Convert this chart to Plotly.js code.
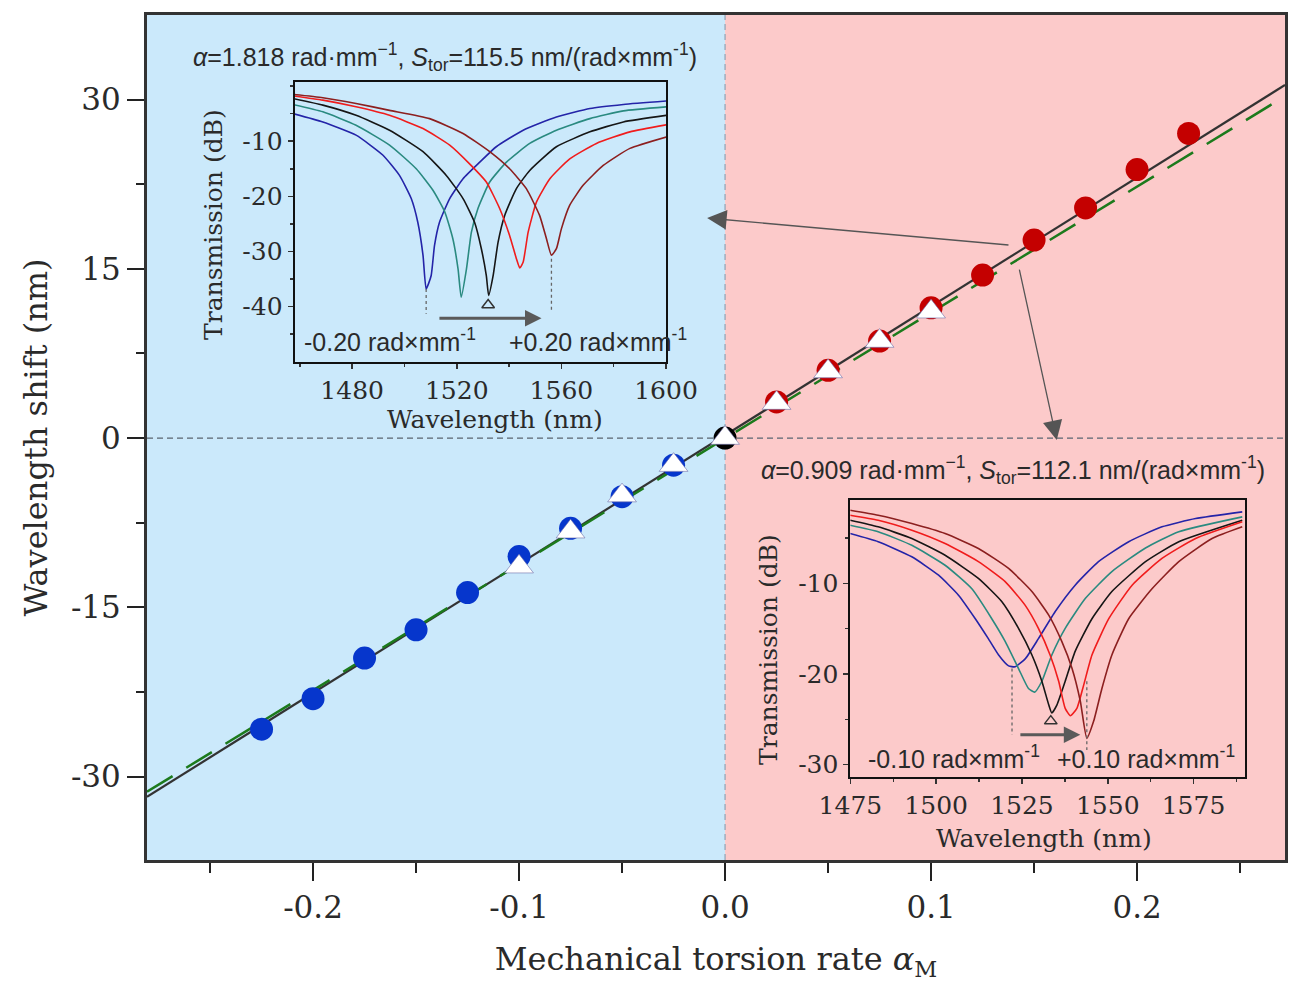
<!DOCTYPE html>
<html>
<head>
<meta charset="utf-8">
<script src="https://cdn.plot.ly/plotly-3.0.1.min.js"></script>
<style>
  body { margin: 0; background: #fff; }
  #chart { width: 1300px; height: 990px; }
</style>
</head>
<body>
<div id="chart"></div>
<script>
// main data, torsion rate (rad/mm) vs wavelength shift (nm)
var negTorsion = [-0.225, -0.2, -0.175, -0.15, -0.125, -0.1, -0.075, -0.05, -0.025]
var negShift   = [-25.8, -23.1, -19.5, -17.0, -13.7, -10.5, -8.0, -5.2, -2.4]
var zeroTorsion = [0]
var zeroShift   = [0]
var posTorsion = [0.025, 0.05, 0.075, 0.1, 0.125, 0.15, 0.175, 0.2, 0.225]
var posShift   = [3.2, 6.0, 8.6, 11.55, 14.45, 17.55, 20.4, 23.8, 27.0]
var triTorsion = [-0.1, -0.075, -0.05, -0.025, 0, 0.025, 0.05, 0.075, 0.1]
var triShift   = [-11.4, -8.3, -5.1, -2.4, 0, 3.1, 5.9, 8.6, 11.2]

// linear fits, read at the plot edges
var fitX     = [-0.2806, 0.2718]
var fitBlack = [-31.8, 31.3]
var fitGreen = [-31.35, 30.3]

// inset 1 (alpha = 1.818) spectra
var s1BlueX = [1457.3,1468.8,1481.5,1491.7,1498.1,1502.6,1505.1,1507.1,1508.3,1510.2,1511.5,1513.4,1517.3,1522.4,1528.8,1535.1,1545.4,1558.1,1570.9,1583.7,1600.3]
var s1BlueY = [-4.97,-6.5,-8.9,-12.5,-16.2,-20.4,-24.7,-30.7,-36.8,-34.4,-28.9,-24.7,-20.4,-16.8,-13.8,-11.0,-8.0,-5.6,-4.06,-3.33,-2.7]
var s1TealX = [1457.3,1468.8,1481.5,1494.3,1504.5,1510.9,1515.4,1518.5,1520.5,1521.7,1523.7,1525.6,1528.1,1532.6,1539.0,1547.9,1558.1,1570.9,1583.7,1600.3]
var s1TealY = [-3.33,-4.67,-7.1,-10.7,-15.0,-18.9,-22.8,-27.7,-33.2,-38.3,-33.2,-26.5,-22.2,-17.4,-13.8,-10.4,-8.0,-5.9,-4.5,-3.76]
var s1BlackX = [1457.3,1468.8,1481.5,1494.3,1507.1,1516.0,1522.4,1526.8,1529.4,1531.3,1532.2,1533.9,1535.8,1538.3,1542.8,1547.9,1558.1,1570.9,1583.7,1600.3]
var s1BlackY = [-2.24,-3.45,-5.3,-8.0,-11.9,-16.2,-20.4,-24.7,-29.5,-34.4,-38.0,-34.4,-28.3,-23.5,-18.6,-15.3,-11.0,-8.3,-6.5,-5.3]
var s1RedX = [1457.3,1468.8,1481.5,1494.3,1507.1,1517.3,1524.9,1531.3,1536.4,1540.2,1542.8,1544.1,1545.4,1547.3,1550.5,1555.6,1563.2,1573.4,1586.2,1600.3]
var s1RedY = [-1.76,-2.55,-3.76,-5.3,-7.7,-10.7,-14.1,-17.4,-22.2,-27.1,-31.3,-33.0,-31.9,-26.5,-21.0,-16.8,-13.2,-10.4,-8.3,-7.0]
var s1DarkX = [1457.3,1468.8,1481.5,1494.3,1509.6,1522.4,1532.6,1540.2,1546.6,1551.7,1554.3,1556.2,1558.1,1560.0,1563.2,1568.3,1576.0,1586.2,1600.3]
var s1DarkY = [-1.5,-2.1,-3.15,-4.4,-5.9,-8.6,-11.9,-15.0,-18.6,-23.5,-27.7,-30.7,-29.5,-25.9,-21.6,-18.0,-14.4,-11.3,-9.2]

// inset 2 (alpha = 0.909) spectra
var s2BlueX = [1474.9,1483.1,1492.9,1500.7,1506.5,1511.4,1515.2,1518.2,1521.1,1523.0,1526.0,1529.8,1534.7,1540.5,1547.3,1556.1,1565.8,1575.6,1589.2]
var s2BlueY = [-4.5,-5.4,-7.07,-9.1,-11.3,-13.9,-16.1,-17.9,-19.1,-19.2,-18.3,-16.1,-13.1,-10.2,-7.6,-5.4,-3.76,-2.85,-2.11]
var s2TealX = [1474.9,1483.1,1492.9,1502.6,1510.4,1516.2,1520.1,1524.0,1526.9,1528.7,1530.8,1533.7,1537.6,1543.5,1551.2,1561.0,1570.7,1589.2]
var s2TealY = [-3.58,-4.3,-5.8,-8.0,-10.6,-13.9,-16.4,-19.4,-21.6,-22.0,-20.8,-17.9,-14.96,-11.65,-8.7,-6.1,-4.3,-2.66]
var s2BlackX = [1474.9,1483.1,1492.9,1502.6,1512.3,1519.1,1524.0,1527.9,1530.8,1532.8,1533.7,1535.2,1537.6,1540.5,1545.4,1551.2,1561.0,1570.7,1589.2]
var s2BlackY = [-3.03,-3.76,-5.05,-6.9,-9.45,-12.0,-14.96,-17.9,-20.8,-23.4,-24.3,-23.4,-20.8,-17.5,-13.9,-10.9,-7.6,-5.4,-3.03]
var s2RedX = [1474.9,1483.1,1492.9,1502.6,1512.3,1520.1,1525.9,1529.8,1533.2,1535.7,1537.6,1539.1,1541.0,1543.0,1545.4,1550.3,1557.1,1565.8,1575.6,1589.2]
var s2RedY = [-2.48,-3.03,-4.13,-5.6,-7.6,-9.8,-12.4,-14.96,-17.9,-20.8,-23.8,-24.6,-23.8,-21.2,-17.9,-13.9,-10.2,-7.25,-5.05,-3.21]
var s2DarkX = [1474.9,1483.1,1492.9,1502.6,1512.3,1521.1,1527.9,1532.8,1536.6,1539.6,1542.0,1543.9,1545.9,1548.3,1551.2,1556.1,1562.9,1570.7,1580.4,1589.2]
var s2DarkY = [-1.93,-2.48,-3.4,-4.5,-6.15,-8.35,-10.9,-13.5,-16.4,-19.4,-23.0,-27.1,-25.2,-21.6,-17.9,-13.9,-10.6,-7.6,-5.05,-3.76]

// open triangle under the black dip
var mark1 = {x: [1532.0], y: [-39.7]}
var mark2 = {x: [1533.4], y: [-25.2]}

var xTickVals = [-0.2, -0.1, 0, 0.1, 0.2]
var xTickText = ['-0.2', '-0.1', '0.0', '0.1', '0.2']
var yTickVals = [-30, -15, 0, 15, 30]
var yTickText = ['-30', '-15', '0', '15', '30']

var SERIF = 'DejaVu Serif, serif'
var NARROW = 'Liberation Sans Narrow, Liberation Sans, Arial, sans-serif'
var INK = '#2a2a2a'
var colBlue = '#2424a8', colTeal = '#2a8a80', colBlack = '#161616', colRed = '#f01c1c', colDark = '#8c1f1f'

var XR = [-0.2806, 0.2718]
var YR = [-37.4, 37.5]

// pixel -> paper helper (plot area 147..1285 x 15..860)
function P(px, py) {
    return {x: (px - 147) / 1138, y: (860 - py) / 845}
}

function spec(x, y, color, xa, ya) {
    return {x: x, y: y, xaxis: xa, yaxis: ya, type: 'scatter', mode: 'lines',
        line: {color: color, width: 1.6, shape: 'spline', smoothing: 0.5},
        hoverinfo: 'skip', showlegend: false}
}

var traces = [
    {x: fitX, y: fitBlack, mode: 'lines', line: {color: '#333', width: 2.2}, showlegend: false},
    {x: fitX, y: fitGreen, mode: 'lines', line: {color: '#1c7a1c', width: 2.5, dash: '30px,16px'}, showlegend: false},
    {x: negTorsion, y: negShift, mode: 'markers', marker: {symbol: 'circle', size: 23, color: '#0636cc'}, showlegend: false},
    {x: posTorsion, y: posShift, mode: 'markers', marker: {symbol: 'circle', size: 23, color: '#c40000'}, showlegend: false},
    {x: zeroTorsion, y: zeroShift, mode: 'markers', marker: {symbol: 'circle', size: 23, color: '#000'}, showlegend: false},
    {x: triTorsion, y: triShift, mode: 'markers', marker: {symbol: 'triangle-up', size: 25, color: '#fff', line: {color: 'rgba(110,110,170,0.6)', width: 1}}, showlegend: false},

    spec(s1BlueX, s1BlueY, colBlue, 'x2', 'y2'),
    spec(s1TealX, s1TealY, colTeal, 'x2', 'y2'),
    spec(s1BlackX, s1BlackY, colBlack, 'x2', 'y2'),
    spec(s1RedX, s1RedY, colRed, 'x2', 'y2'),
    spec(s1DarkX, s1DarkY, colDark, 'x2', 'y2'),
    {x: mark1.x, y: mark1.y, xaxis: 'x2', yaxis: 'y2', mode: 'markers', marker: {symbol: 'triangle-up-open', size: 11, color: '#333', line: {width: 1.5}}, showlegend: false},

    spec(s2BlueX, s2BlueY, colBlue, 'x3', 'y3'),
    spec(s2TealX, s2TealY, colTeal, 'x3', 'y3'),
    spec(s2BlackX, s2BlackY, colBlack, 'x3', 'y3'),
    spec(s2RedX, s2RedY, colRed, 'x3', 'y3'),
    spec(s2DarkX, s2DarkY, colDark, 'x3', 'y3'),
    {x: mark2.x, y: mark2.y, xaxis: 'x3', yaxis: 'y3', mode: 'markers', marker: {symbol: 'triangle-up-open', size: 11, color: '#333', line: {width: 1.5}}, showlegend: false}
]

function insetAxis(dom, range, vals, minorVals, anchor) {
    return {
        domain: dom, range: range, anchor: anchor,
        showline: true, mirror: true, linecolor: '#111', linewidth: 2,
        ticks: 'outside', ticklen: 5, tickwidth: 1.5, tickcolor: '#333',
        tickmode: 'array', tickvals: vals, ticktext: vals.map(function(v) { return String(v) }),
        minor: {tickmode: 'array', tickvals: minorVals, ticks: 'outside', ticklen: 3, tickwidth: 1.5, tickcolor: '#333'},
        showgrid: false, zeroline: false, automargin: false,
        tickfont: {family: SERIF, size: 25, color: INK}
    }
}

var d1 = [P(294.6, 0).x, P(666, 0).x], e1 = [P(0, 361.7).y, P(0, 81.7).y]
var d2 = [P(850.4, 0).x, P(1245, 0).x], e2 = [P(0, 777.3).y, P(0, 500).y]

var layout = {
    width: 1300, height: 990,
    margin: {l: 147, r: 15, t: 15, b: 130},
    paper_bgcolor: '#fff', plot_bgcolor: 'rgba(0,0,0,0)',
    showlegend: false,
    xaxis: {
        range: XR, domain: [0, 1], anchor: 'y',
        showline: true, mirror: true, linecolor: '#333', linewidth: 3,
        ticks: 'outside', ticklen: 18, tickwidth: 2, tickcolor: '#222',
        tickmode: 'array', tickvals: xTickVals, ticktext: xTickText,
        minor: {tickmode: 'array', tickvals: [-0.25, -0.15, -0.05, 0.05, 0.15, 0.25], ticks: 'outside', ticklen: 10, tickwidth: 2, tickcolor: '#222'},
        showgrid: false, zeroline: false, automargin: false,
        tickfont: {family: SERIF, size: 31, color: INK},
        title: {text: 'Mechanical torsion rate <i>α</i><sub>M</sub>', font: {family: SERIF, size: 32, color: INK}, standoff: 24}
    },
    yaxis: {
        range: YR, domain: [0, 1], anchor: 'x',
        showline: true, mirror: true, linecolor: '#333', linewidth: 3,
        ticks: 'outside', ticklen: 17, tickwidth: 2, tickcolor: '#222',
        tickmode: 'array', tickvals: yTickVals, ticktext: yTickText,
        minor: {tickmode: 'array', tickvals: [-22.5, -7.5, 7.5, 22.5], ticks: 'outside', ticklen: 8, tickwidth: 2, tickcolor: '#222'},
        showgrid: false, zeroline: false, automargin: false,
        tickfont: {family: SERIF, size: 31, color: INK},
        title: {text: 'Wavelength shift (nm)', font: {family: SERIF, size: 32, color: INK}, standoff: 14}
    },
    xaxis2: insetAxis(d1, [1458, 1600], [1480, 1520, 1560, 1600], [1460, 1500, 1540, 1580], 'y2'),
    yaxis2: insetAxis(e1, [-50, 0.8], [-10, -20, -30, -40], [0, -5, -15, -25, -35, -45], 'x2'),
    xaxis3: insetAxis(d2, [1475, 1590], [1475, 1500, 1525, 1550, 1575], [1487.5, 1512.5, 1537.5, 1562.5, 1587.5], 'y3'),
    yaxis3: insetAxis(e2, [-31.4, -0.8], [-10, -20, -30], [-5, -15, -25], 'x3'),
    shapes: [
        {type: 'rect', xref: 'x', yref: 'y', x0: XR[0], x1: 0, y0: YR[0], y1: YR[1], fillcolor: '#cbe9fb', line: {width: 0}, layer: 'below'},
        {type: 'rect', xref: 'x', yref: 'y', x0: 0, x1: XR[1], y0: YR[0], y1: YR[1], fillcolor: '#fccaca', line: {width: 0}, layer: 'below'},
        {type: 'line', xref: 'x', yref: 'y', x0: XR[0], x1: XR[1], y0: 0, y1: 0, line: {color: '#5a6470', width: 1.2, dash: '6px,4px'}, layer: 'below'},
        {type: 'line', xref: 'x', yref: 'y', x0: 0, x1: 0, y0: YR[0], y1: YR[1], line: {color: '#8fa2b4', width: 1.2, dash: '6px,4px'}, layer: 'below'},
        // dotted guides under the dips
        {type: 'line', xref: 'x2', yref: 'y2', x0: 1508.3, x1: 1508.3, y0: -36.8, y1: -41.3, line: {color: '#666', width: 1.3, dash: 'dot'}},
        {type: 'line', xref: 'x2', yref: 'y2', x0: 1556.2, x1: 1556.2, y0: -31.3, y1: -41.0, line: {color: '#666', width: 1.3, dash: 'dot'}},
        {type: 'line', xref: 'x3', yref: 'y3', x0: 1522.1, x1: 1522.1, y0: -19.4, y1: -26.7, line: {color: '#666', width: 1.3, dash: 'dot'}},
        {type: 'line', xref: 'x3', yref: 'y3', x0: 1543.9, x1: 1543.9, y0: -20.8, y1: -28.4, line: {color: '#666', width: 1.3, dash: 'dot'}}
    ],
    annotations: []
}

var ann = layout.annotations
function note(px, py, text, size, font, angle) {
    var p = P(px, py)
    ann.push({xref: 'paper', yref: 'paper', x: p.x, y: p.y, xanchor: 'center', yanchor: 'middle',
        text: text, showarrow: false, textangle: angle || 0,
        font: {family: font, size: size, color: INK}})
}

note(445, 57, '<i>α</i>=1.818 rad·mm<sup>−1</sup>, <i>S</i><sub>tor</sub>=115.5 nm/(rad×mm<sup>-1</sup>)', 25, NARROW)
note(1013, 470, '<i>α</i>=0.909 rad·mm<sup>−1</sup>, <i>S</i><sub>tor</sub>=112.1 nm/(rad×mm<sup>-1</sup>)', 25, NARROW)
note(390, 340, '-0.20 rad×mm<sup>-1</sup>', 25, NARROW)
note(598, 340, '+0.20 rad×mm<sup>-1</sup>', 25, NARROW)
note(954, 757, '-0.10 rad×mm<sup>-1</sup>', 25, NARROW)
note(1146, 757, '+0.10 rad×mm<sup>-1</sup>', 25, NARROW)
note(213, 225, 'Transmission (dB)', 25, SERIF, -90)
note(495, 419, 'Wavelength (nm)', 25, SERIF)
note(768, 650, 'Transmission (dB)', 25, SERIF, -90)
note(1044, 838, 'Wavelength (nm)', 25, SERIF)

// shift arrows inside the insets
ann.push({xref: 'x2', yref: 'y2', axref: 'x2', ayref: 'y2', x: 1552.4, y: -42.1, ax: 1512.8, ay: -42.1,
    text: '', showarrow: true, arrowhead: 2, arrowsize: 1.1, arrowwidth: 3, arrowcolor: '#5a5a5a'})
ann.push({xref: 'x3', yref: 'y3', axref: 'x3', ayref: 'y3', x: 1542.0, y: -26.7, ax: 1524.1, ay: -26.7,
    text: '', showarrow: true, arrowhead: 2, arrowsize: 1.1, arrowwidth: 3, arrowcolor: '#5a5a5a'})

// pointers from the data to the insets
ann.push({xref: 'x', yref: 'y', axref: 'x', ayref: 'y', x: -0.0087, y: 19.5, ax: 0.1383, ay: 17.1,
    text: '', showarrow: true, arrowhead: 2, arrowsize: 3, arrowwidth: 1.3, arrowcolor: '#555'})
ann.push({xref: 'x', yref: 'y', axref: 'x', ayref: 'y', x: 0.161, y: -0.18, ax: 0.1427, ay: 15.07,
    text: '', showarrow: true, arrowhead: 2, arrowsize: 3, arrowwidth: 1.3, arrowcolor: '#555'})

Plotly.newPlot('chart', traces, layout, {staticPlot: true, displayModeBar: false})
</script>
</body>
</html>
